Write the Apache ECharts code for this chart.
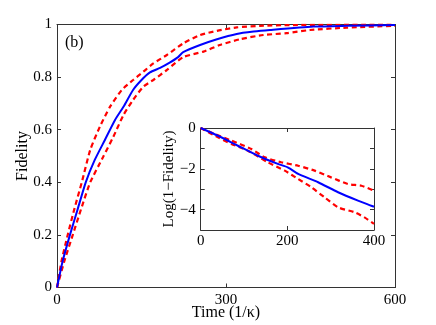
<!DOCTYPE html>
<html>
<head>
<meta charset="utf-8">
<script src="https://cdn.jsdelivr.net/npm/echarts@6/dist/echarts.min.js"></script>
<style>
  html, body { margin: 0; padding: 0; background: #fff; }
  #chart { width: 436px; height: 325px; }
</style>
</head>
<body>
<div id="chart"></div>
<script>
// main panel: fidelity vs time
const meanT = [0, 10, 23, 37, 51, 67, 85, 103, 118, 135, 150, 165, 183, 200, 215, 224, 254, 284, 319, 349, 378, 455, 514, 600];
const meanF = [0, 0.1, 0.2, 0.3, 0.4, 0.485, 0.561, 0.637, 0.687, 0.751, 0.789, 0.818, 0.835, 0.855, 0.876, 0.895, 0.922, 0.944, 0.964, 0.973, 0.979, 0.992, 0.995, 0.998];
const upperT = [0, 8, 19, 31, 44, 59, 76, 94, 115, 135, 153, 171, 195, 224, 254, 284, 319, 360, 419, 600];
const upperF = [0, 0.1, 0.2, 0.3, 0.4, 0.523, 0.611, 0.687, 0.751, 0.789, 0.82, 0.852, 0.884, 0.928, 0.96, 0.976, 0.989, 0.995, 0.998, 1.0];
const lowerT = [0, 13, 28, 43, 59, 82, 100, 118, 135, 153, 171, 195, 224, 260, 289, 325, 366, 408, 449, 514, 600];
const lowerF = [0, 0.1, 0.2, 0.3, 0.4, 0.497, 0.573, 0.656, 0.713, 0.763, 0.789, 0.827, 0.876, 0.897, 0.922, 0.944, 0.96, 0.967, 0.979, 0.988, 0.995];

// inset: log(1 - fidelity)
const insMeanT = [0, 40, 86, 132, 178, 201, 225, 271, 317, 363, 400];
const insMeanY = [0, -0.38, -0.87, -1.36, -1.76, -1.93, -2.25, -2.66, -3.15, -3.56, -3.86];
const insUpperT = [0, 32, 71, 117, 148, 186, 225, 263, 301, 340, 371, 400];
const insUpperY = [0, -0.29, -0.62, -1.03, -1.44, -1.68, -1.85, -2.09, -2.42, -2.75, -2.83, -3.07];
const insLowerT = [0, 40, 71, 109, 155, 194, 225, 255, 286, 317, 355, 378, 400];
const insLowerY = [0, -0.46, -0.78, -1.11, -1.68, -2.09, -2.5, -2.9, -3.4, -3.89, -4.13, -4.38, -4.7];

const zip = (xs, ys) => xs.map((x, i) => [x, ys[i]]);

const FONT = 'Liberation Serif';
const AXIS_COLOR = '#333';
const BLUE = '#0000ff';
const RED = '#ff0000';

const chart = echarts.init(document.getElementById('chart'), null, { renderer: 'canvas' });

const baseAxis = {
  axisLine: { show: true, onZero: false, lineStyle: { color: AXIS_COLOR, width: 1 } },
  axisTick: { show: true, inside: true, length: 4, lineStyle: { color: AXIS_COLOR } },
  splitLine: { show: false },
  axisLabel: { color: '#000', fontFamily: FONT, fontSize: 15 },
  nameMoveOverlap: false,
};
const mirror = (extra) => Object.assign({}, baseAxis, { axisLabel: { show: false } }, extra);

const lineSeries = (xIdx, yIdx, data, color, dashed) => ({
  type: 'line',
  xAxisIndex: xIdx,
  yAxisIndex: yIdx,
  data,
  symbol: 'none',
  smooth: 0.2,
  lineStyle: dashed
    ? { color, width: 2.2, type: [5, 3.5] }
    : { color, width: 2 },
  z: dashed ? 3 : 4,
});

chart.setOption({
  animation: false,
  backgroundColor: '#fff',
  textStyle: { fontFamily: FONT },
  grid: [
    { left: 57, right: 41, top: 24.5, bottom: 37.5, outerBoundsMode: 'none', containLabel: false },
    { left: 200.7, width: 173.3, top: 128, height: 102, show: true, backgroundColor: '#fff', borderWidth: 0, z: 10, outerBoundsMode: 'none', containLabel: false },
  ],
  xAxis: [
    Object.assign({}, baseAxis, {
      gridIndex: 0, type: 'value', min: 0, max: 600, interval: 300,
      name: 'Time (1/κ)', nameLocation: 'middle', nameGap: 17,
      nameTextStyle: { color: '#000', fontFamily: FONT, fontSize: 16 },
      axisLabel: Object.assign({}, baseAxis.axisLabel, { margin: 5 }),
    }),
    mirror({ gridIndex: 0, type: 'value', position: 'top', min: 0, max: 600, interval: 300 }),
    Object.assign({}, baseAxis, {
      gridIndex: 1, type: 'value', min: 0, max: 400, interval: 200, z: 11,
      axisLabel: Object.assign({}, baseAxis.axisLabel, { margin: 4 }),
    }),
    mirror({ gridIndex: 1, type: 'value', position: 'top', min: 0, max: 400, interval: 200, z: 11 }),
  ],
  yAxis: [
    Object.assign({}, baseAxis, {
      gridIndex: 0, type: 'value', min: 0, max: 1, interval: 0.2,
      name: 'Fidelity', nameLocation: 'middle', nameGap: 26,
      nameTextStyle: { color: '#000', fontFamily: FONT, fontSize: 16 },
      axisLabel: Object.assign({}, baseAxis.axisLabel, { margin: 5 }),
    }),
    mirror({ gridIndex: 0, type: 'value', position: 'right', min: 0, max: 1, interval: 0.2 }),
    Object.assign({}, baseAxis, {
      gridIndex: 1, type: 'value', min: -5, max: 0, interval: 1, z: 11,
      name: 'Log(1−Fidelity)', nameLocation: 'middle', nameGap: 24,
      nameTextStyle: { color: '#000', fontFamily: FONT, fontSize: 15 },
      axisLabel: Object.assign({}, baseAxis.axisLabel, {
        margin: 5,
        formatter: (v) => (v % 2 === 0 ? (v < 0 ? '−' + Math.abs(v) : String(v)) : ''),
      }),
    }),
    mirror({ gridIndex: 1, type: 'value', position: 'right', min: -5, max: 0, interval: 1, z: 11 }),
  ],
  graphic: [
    { type: 'text', left: 65, top: 35, z: 20, style: { text: '(b)', font: '16px "Liberation Serif"', fill: '#000' } },
  ],
  series: [
    lineSeries(0, 0, zip(upperT, upperF), RED, true),
    lineSeries(0, 0, zip(lowerT, lowerF), RED, true),
    lineSeries(0, 0, zip(meanT, meanF), BLUE, false),
    Object.assign(lineSeries(2, 2, zip(insUpperT, insUpperY), RED, true), { z: 12 }),
    Object.assign(lineSeries(2, 2, zip(insLowerT, insLowerY), RED, true), { z: 12 }),
    Object.assign(lineSeries(2, 2, zip(insMeanT, insMeanY), BLUE, false), { z: 13 }),
  ],
});
</script>
</body>
</html>
